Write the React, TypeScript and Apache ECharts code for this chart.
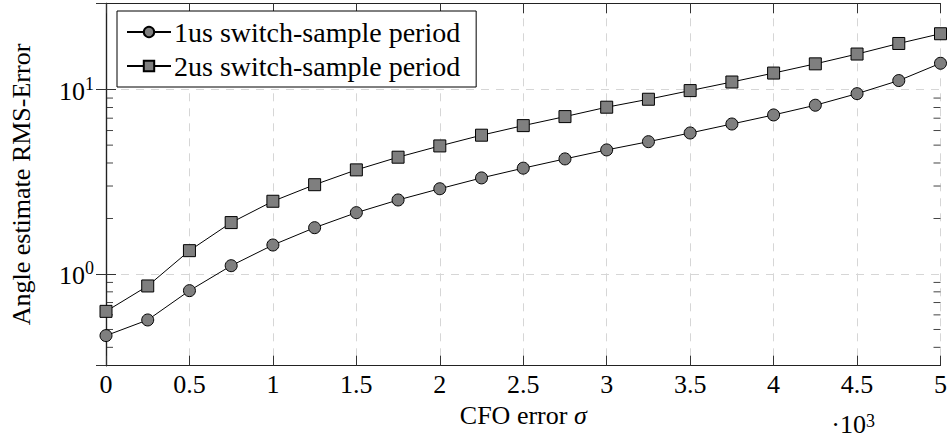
import React, { useEffect, useRef } from "react";
import * as echarts from "echarts";

const xValues = [0, 250, 500, 750, 1000, 1250, 1500, 1750, 2000, 2250, 2500, 2750, 3000, 3250, 3500, 3750, 4000, 4250, 4500, 4750, 5000];
const series1Name = "1us switch-sample period";
const series2Name = "2us switch-sample period";
const series1 = [0.463, 0.563, 0.812, 1.109, 1.436, 1.783, 2.151, 2.52, 2.9, 3.32, 3.75, 4.21, 4.71, 5.22, 5.82, 6.51, 7.29, 8.23, 9.51, 11.2, 13.9];
const series2 = [0.627, 0.861, 1.338, 1.9, 2.48, 3.05, 3.67, 4.3, 4.95, 5.66, 6.38, 7.14, 8.03, 8.87, 9.88, 11.0, 12.3, 13.8, 15.6, 17.8, 20.1];
const minorTickValues = [0.4, 0.5, 0.6, 0.7, 0.8, 0.9, 2, 3, 4, 5, 6, 7, 8, 9];
const yMin = 0.318;
const yMax = 29.4;

const FONT = "'Liberation Serif', 'DejaVu Serif', serif";
const FS = 26;

export default function App() {
  const ref = useRef<HTMLDivElement>(null);
  useEffect(() => {
    if (!ref.current) return;
    const chart = echarts.init(ref.current, null, { renderer: "svg" });
    const axisLine = { show: true, lineStyle: { color: "#222", width: 1.2 } };
    const gridLine = { show: true, lineStyle: { color: "#d6d6d6", type: [8, 7] as any, width: 1 } };
    const powerFmt = (v: number) => {
      const l = Math.log10(v);
      const e = Math.round(l);
      if (Math.abs(l - e) < 1e-6) return `{b|10}{s|${e}}`;
      return "";
    };
    const pair = (arr: number[]) => xValues.map((x, i) => [x, arr[i]]);
    const option: any = {
      animation: false,
      textStyle: { fontFamily: FONT },
      grid: { left: 99.7, right: 6.7, top: 3.3, bottom: 75.3, containLabel: false },
      legend: {
        orient: "vertical",
        left: 117,
        top: 11,
        padding: [7, 16, 7, 9],
        itemGap: 6,
        itemWidth: 44,
        itemHeight: 13,
        backgroundColor: "#fff",
        borderColor: "#000",
        borderWidth: 1,
        borderRadius: 0,
        textStyle: { fontFamily: FONT, fontSize: 28, color: "#000", lineHeight: 28, padding: [0, 0, 0, -2] },
        data: [series1Name, series2Name],
      },
      xAxis: [
        {
          type: "value",
          min: 0,
          max: 5000,
          interval: 500,
          position: "bottom",
          axisLine,
          axisTick: { show: true, inside: true, length: 10, lineStyle: { color: "#333" } },
          splitLine: gridLine,
          axisLabel: {
            show: true,
            margin: 6,
            fontFamily: FONT,
            fontSize: FS,
            color: "#000",
            formatter: (v: number) => String(v / 1000),
          },
          name: "{n|CFO error }{i|σ}",
          nameLocation: "middle",
          nameGap: 33,
          nameTextStyle: {
            rich: {
              n: { fontFamily: FONT, fontSize: FS, color: "#000" },
              i: { fontFamily: FONT, fontSize: FS, color: "#000", fontStyle: "italic" },
            },
          },
        },
        {
          type: "value",
          min: 0,
          max: 5000,
          interval: 500,
          position: "top",
          axisLine,
          axisTick: { show: true, inside: true, length: 10, lineStyle: { color: "#333" } },
          splitLine: { show: false },
          axisLabel: { show: false },
        },
      ],
      yAxis: [
        {
          type: "log",
          logBase: 10,
          min: yMin,
          max: yMax,
          position: "left",
          axisLine,
          axisTick: { show: true, inside: true, length: 10, lineStyle: { color: "#333" } },
          splitLine: gridLine,
          axisLabel: {
            show: true,
            margin: 12,
            showMinLabel: false,
            showMaxLabel: false,
            formatter: powerFmt,
            rich: {
              b: { fontFamily: FONT, fontSize: FS, color: "#000", lineHeight: 30, verticalAlign: "bottom" },
              s: { fontFamily: FONT, fontSize: 18, color: "#000", lineHeight: 18, verticalAlign: "top" },
            },
          },
          name: "Angle estimate RMS-Error",
          nameLocation: "middle",
          nameGap: 72,
          nameTextStyle: { fontFamily: FONT, fontSize: FS, color: "#000" },
        },
        {
          type: "log",
          logBase: 10,
          min: yMin,
          max: yMax,
          position: "right",
          axisLine,
          axisTick: { show: true, inside: true, length: 10, lineStyle: { color: "#333" } },
          splitLine: { show: false },
          axisLabel: { show: false },
        },
      ],
      series: [
        {
          name: series1Name,
          type: "line",
          data: pair(series1),
          symbol: "circle",
          symbolSize: 12,
          lineStyle: { color: "#000", width: 1 },
          itemStyle: { color: "#7f7f7f", borderColor: "#000", borderWidth: 1 },
          z: 3,
        },
        {
          name: series2Name,
          type: "line",
          data: pair(series2),
          symbol: "rect",
          symbolSize: 12,
          lineStyle: { color: "#000", width: 1 },
          itemStyle: { color: "#7f7f7f", borderColor: "#000", borderWidth: 1 },
          z: 3,
        },
      ],
    };
    chart.setOption(option);

    const left = chart.convertToPixel({ xAxisIndex: 0 }, 0) as number;
    const right = chart.convertToPixel({ xAxisIndex: 0 }, 5000) as number;
    const bottomY = chart.convertToPixel({ yAxisIndex: 0 }, yMin) as number;
    const minor: any[] = [];
    minorTickValues.forEach((v) => {
      const y = chart.convertToPixel({ yAxisIndex: 0 }, v) as number;
      minor.push({ type: "line", shape: { x1: left, y1: y, x2: left + 7, y2: y }, style: { stroke: "#444", lineWidth: 1 }, silent: true });
      minor.push({ type: "line", shape: { x1: right - 7, y1: y, x2: right, y2: y }, style: { stroke: "#444", lineWidth: 1 }, silent: true });
    });
    const x45 = chart.convertToPixel({ xAxisIndex: 0 }, 4500) as number;
    minor.push({
      type: "text",
      x: x45 - 4,
      y: bottomY + 59,
      style: {
        text: "{b|·10}{s|3}",
        align: "center",
        verticalAlign: "middle",
        rich: {
          b: { fontFamily: FONT, fontSize: FS, fill: "#000", lineHeight: 26, verticalAlign: "bottom" },
          s: { fontFamily: FONT, fontSize: 18, fill: "#000", lineHeight: 18, verticalAlign: "top" },
        },
      },
    });
    chart.setOption({ graphic: minor });
    return () => chart.dispose();
  }, []);
  return <div ref={ref} style={{ position: "absolute", left: 0, top: 0, width: 950, height: 441 }} />;
}
